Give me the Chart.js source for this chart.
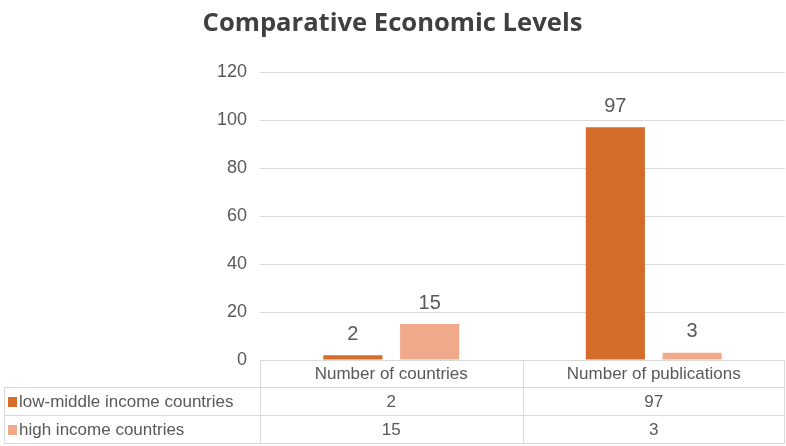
<!DOCTYPE html>
<html>
<head>
<meta charset="utf-8">
<script src="https://cdn.jsdelivr.net/npm/chart.js@4"></script>
<style>
  html, body { margin: 0; padding: 0; background: #fff; }
  #wrap { width: 786px; height: 446px; }
</style>
</head>
<body>
<div id="wrap"><canvas id="chart"></canvas></div>
<script>
// data
const categories = ['Number of countries', 'Number of publications'];
const seriesNames = ['low-middle income countries', 'high income countries'];
const lowMiddle = [2, 97];
const highIncome = [15, 3];
const yTicks = [0, 20, 40, 60, 80, 100, 120];

const COLORS = ['#D36D29', '#F1A98B'];
const FONT = "'Liberation Sans Narrow', 'Liberation Sans', sans-serif";
const TEXT = '#595959';
const LINE = '#D9D9D9';
const ROW_H = 28;

// value labels above each bar
const valueLabels = {
    id: 'valueLabels',
    afterDatasetsDraw(chart) {
        const ctx = chart.ctx;
        ctx.save();
        ctx.font = '20px ' + FONT;
        ctx.fillStyle = TEXT;
        ctx.textAlign = 'center';
        ctx.textBaseline = 'bottom';
        chart.data.datasets.forEach((ds, i) => {
            chart.getDatasetMeta(i).data.forEach((bar, j) => {
                ctx.fillText(String(ds.data[j]), bar.x, bar.y - 11);
            });
        });
        ctx.restore();
    }
};

// Excel style data table under the plot
const dataTable = {
    id: 'dataTable',
    afterDraw(chart) {
        const ctx = chart.ctx;
        const area = chart.chartArea;
        const x = chart.scales.x;
        const top = area.bottom;
        const left = 4;
        const right = 784;
        const bounds = [area.left];
        for (let i = 0; i < categories.length - 1; i++) {
            bounds.push(x.getPixelForValue(i + 0.5));
        }
        bounds.push(right);

        ctx.save();
        ctx.strokeStyle = LINE;
        ctx.lineWidth = 1;
        ctx.beginPath();
        ctx.moveTo(area.left, top + 0.5);
        ctx.lineTo(right, top + 0.5);
        for (let r = 1; r <= 3; r++) {
            const y = Math.round(top + r * ROW_H) - 0.5;
            ctx.moveTo(left, y);
            ctx.lineTo(right, y);
        }
        ctx.moveTo(left + 0.5, top + ROW_H);
        ctx.lineTo(left + 0.5, top + 3 * ROW_H);
        bounds.forEach(b => {
            const bx = Math.round(b) + 0.5;
            ctx.moveTo(bx, top);
            ctx.lineTo(bx, top + 3 * ROW_H);
        });
        ctx.stroke();

        ctx.font = '17px ' + FONT;
        ctx.fillStyle = TEXT;
        ctx.textBaseline = 'middle';
        ctx.textAlign = 'center';
        categories.forEach((c, i) => {
            ctx.fillText(c, x.getPixelForValue(i), top + ROW_H / 2);
        });
        chart.data.datasets.forEach((ds, r) => {
            const cy = top + ROW_H * (r + 1.5);
            ctx.textAlign = 'center';
            ds.data.forEach((v, i) => {
                ctx.fillText(String(v), x.getPixelForValue(i), cy);
            });
            ctx.fillStyle = COLORS[r];
            ctx.fillRect(8, cy - 5, 9, 10);
            ctx.fillStyle = TEXT;
            ctx.textAlign = 'left';
            ctx.fillText(ds.label, 19, cy);
        });
        ctx.restore();
    }
};

new Chart(document.getElementById('chart'), {
    type: 'bar',
    data: {
        labels: categories,
        datasets: [
            { label: seriesNames[0], data: lowMiddle, backgroundColor: COLORS[0] },
            { label: seriesNames[1], data: highIncome, backgroundColor: COLORS[1] }
        ]
    },
    options: {
        responsive: true,
        maintainAspectRatio: false,
        animation: false,
        datasets: {
            bar: { categoryPercentage: 0.585, barPercentage: 0.77 }
        },
        layout: { padding: { top: 0, right: 1, bottom: 86, left: 0 } },
        scales: {
            x: {
                display: false
            },
            y: {
                min: 0,
                max: 120,
                afterFit(scale) { scale.width = 260; },
                afterBuildTicks(scale) { scale.ticks = yTicks.map(v => ({ value: v })); },
                border: { display: false },
                grid: { color: LINE, drawTicks: false },
                ticks: {
                    padding: 13,
                    color: TEXT,
                    font: { family: FONT, size: 18 }
                }
            }
        },
        plugins: {
            legend: { display: false },
            tooltip: { enabled: false },
            title: {
                display: true,
                text: 'Comparative Economic Levels',
                color: '#404040',
                font: { family: "'Open Sans', sans-serif", size: 25.6, weight: 'bold', lineHeight: 1.2 },
                padding: { top: 8, bottom: 33.3 }
            }
        }
    },
    plugins: [valueLabels, dataTable]
});
</script>
</body>
</html>
